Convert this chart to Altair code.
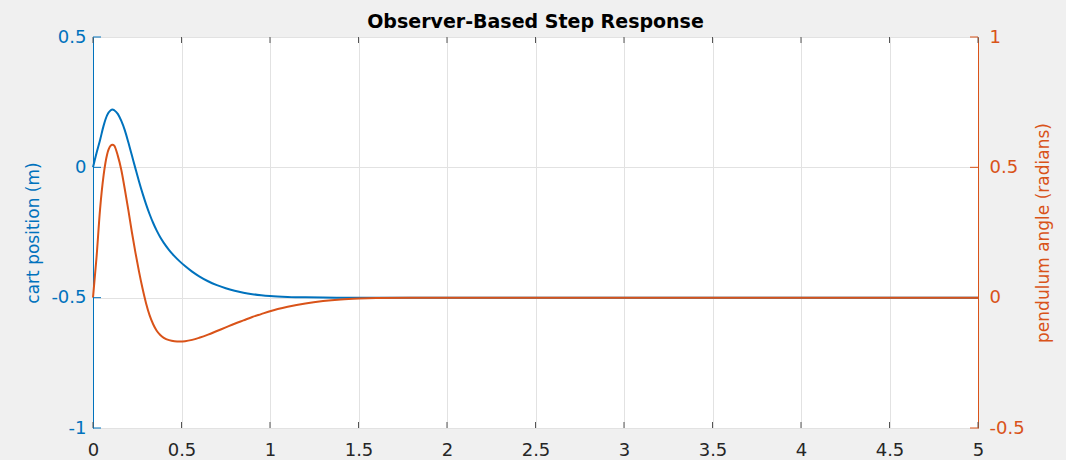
import altair as alt
import pandas as pd

# Time samples (s)
t = [0, 0.02, 0.04, 0.06, 0.08, 0.10, 0.11, 0.12, 0.14, 0.16, 0.18, 0.20, 0.22,
     0.24, 0.26, 0.28, 0.30, 0.32, 0.34, 0.36, 0.38, 0.40, 0.43, 0.46, 0.49, 0.52,
     0.56, 0.60, 0.65, 0.70, 0.75, 0.80, 0.85, 0.90, 0.95, 1.00, 1.10, 1.20, 1.30,
     1.40, 1.50, 1.60, 1.80, 2.00, 2.50, 3.00, 4.00, 5.00]

# Cart position (m), left axis
cart = [0.0, 0.055, 0.105, 0.16, 0.20, 0.219, 0.222, 0.219, 0.205, 0.178, 0.142, 0.095, 0.045,
        -0.005, -0.054, -0.10, -0.142, -0.18, -0.2136, -0.2428, -0.268, -0.2896, -0.3172, -0.3406, -0.3607, -0.3787,
        -0.40, -0.418, -0.437, -0.452, -0.464, -0.4735, -0.481, -0.4865, -0.4905, -0.4935, -0.497, -0.4988, -0.4996,
        -0.4999, -0.5, -0.5, -0.5, -0.5, -0.5, -0.5, -0.5, -0.5]

# Pendulum angle (radians), right axis
angle = [0.0, 0.155, 0.34, 0.47, 0.55, 0.583, 0.587, 0.583, 0.545, 0.49, 0.415, 0.335, 0.25,
         0.172, 0.10, 0.035, -0.022, -0.068, -0.102, -0.127, -0.143, -0.154, -0.163, -0.167, -0.168, -0.167,
         -0.162, -0.154, -0.142, -0.128, -0.114, -0.10, -0.087, -0.074, -0.063, -0.052, -0.035, -0.022, -0.013,
         -0.007, -0.0035, -0.0015, -0.0003, 0.0, 0.0, 0.0, 0.0, 0.0]

x_ticks = [0, 0.5, 1, 1.5, 2, 2.5, 3, 3.5, 4, 4.5, 5]
left_ticks = [-1, -0.5, 0, 0.5]
right_ticks = [-0.5, 0, 0.5, 1]

BLUE = "#0072BD"
ORANGE = "#D95319"
FONT = "DejaVu Sans"

W, H = 885, 391

df = pd.DataFrame({"t": t, "cart": cart, "angle": angle})
xt = pd.DataFrame({"v": x_ticks})
lt = pd.DataFrame({"v": left_ticks})
rt = pd.DataFrame({"v": right_ticks})

xscale = alt.Scale(domain=[0, 5], nice=False, zero=False)
lscale = alt.Scale(domain=[-1, 0.5], nice=False, zero=False)
rscale = alt.Scale(domain=[-0.5, 1], nice=False, zero=False)

x_axis = alt.Axis(values=x_ticks, labelExpr="datum.value + ''", grid=True,
                  gridColor="#e2e2e2", ticks=False, domain=False, labelFlush=False,
                  labelFontSize=18, labelColor="#262626", labelPadding=13,
                  labelFont=FONT, title=None)

cart_line = alt.Chart(df).mark_line(color=BLUE, strokeWidth=2, interpolate="monotone").encode(
    x=alt.X("t:Q", scale=xscale, axis=x_axis),
    y=alt.Y("cart:Q", scale=lscale,
            axis=alt.Axis(orient="left", values=left_ticks, labelExpr="datum.value + ''",
                          grid=True, gridColor="#e2e2e2", ticks=False,
                          domainColor=BLUE, domainWidth=1, labelColor=BLUE,
                          labelFontSize=18, labelFont=FONT, labelPadding=7,
                          title="cart position (m)", titleColor=BLUE, titleFont=FONT,
                          titleFontSize=17, titleFontWeight="normal", titleAngle=270,
                          titleX=-60, titleY=H / 2, titleBaseline="middle", titleAlign="center")),
)

angle_line = alt.Chart(df).mark_line(color=ORANGE, strokeWidth=2, interpolate="monotone").encode(
    x=alt.X("t:Q", scale=xscale, axis=x_axis),
    y=alt.Y("angle:Q", scale=rscale,
            axis=alt.Axis(orient="right", values=right_ticks, labelExpr="datum.value + ''",
                          grid=False, ticks=False,
                          domainColor=ORANGE, domainWidth=1, labelColor=ORANGE,
                          labelFontSize=18, labelFont=FONT, labelPadding=11,
                          title="pendulum angle (radians)", titleColor=ORANGE, titleFont=FONT,
                          titleFontSize=17, titleFontWeight="normal", titleAngle=270,
                          titleX=65, titleY=H / 2, titleBaseline="middle", titleAlign="center")),
)

# Inward tick marks on the bottom and top edges
x_ticks_bottom = alt.Chart(xt).mark_rule(color="#555555", strokeWidth=1).encode(
    x=alt.X("v:Q", scale=xscale, axis=x_axis), y=alt.value(H), y2=alt.value(H - 6))
x_ticks_top = alt.Chart(xt).mark_rule(color="#555555", strokeWidth=1).encode(
    x=alt.X("v:Q", scale=xscale, axis=x_axis), y=alt.value(0), y2=alt.value(6))

# Inward tick marks on the left (cart) and right (angle) edges
l_ticks = alt.Chart(lt).mark_rule(color=BLUE, strokeWidth=1).encode(
    y=alt.Y("v:Q", scale=lscale, axis=None), x=alt.value(0), x2=alt.value(8))
r_ticks = alt.Chart(rt).mark_rule(color=ORANGE, strokeWidth=1).encode(
    y=alt.Y("v:Q", scale=rscale, axis=None), x=alt.value(W), x2=alt.value(W - 8))

chart = alt.layer(
    cart_line, angle_line, x_ticks_bottom, x_ticks_top, l_ticks, r_ticks
).resolve_scale(y="independent").properties(
    width=W, height=H,
    title=alt.TitleParams("Observer-Based Step Response", font=FONT, fontSize=19,
                          fontWeight="bold", color="#000000", anchor="middle",
                          frame="group", offset=-4),
    autosize=alt.AutoSizeParams(type="none"),
    padding={"left": 93, "top": 37, "right": 88, "bottom": 32},
    background="#f0f0f0",
).configure_view(stroke="#7a7a7a", strokeWidth=1, fill="#ffffff")

chart.save("out.html", embed_options={"renderer": "svg", "actions": False})
